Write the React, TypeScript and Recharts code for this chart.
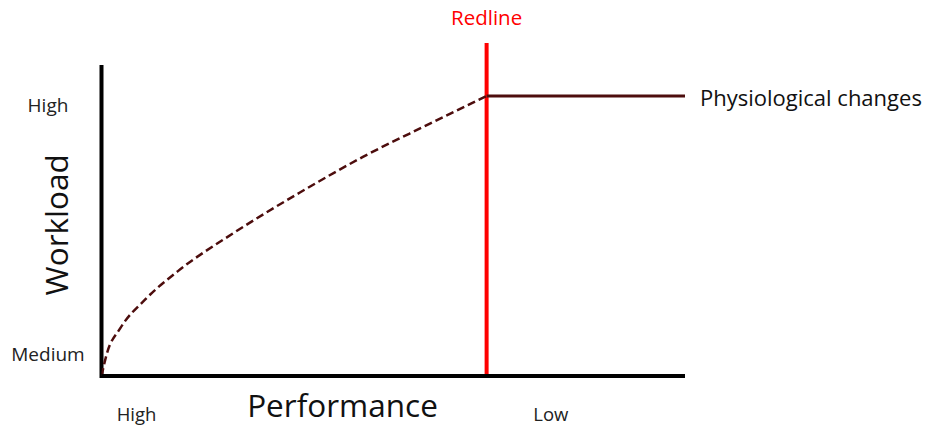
import {
  ComposedChart,
  Line,
  XAxis,
  YAxis,
  ReferenceLine,
  Label,
} from "recharts";

// performance (x) vs workload (y), both 0..100
const curveData = [
  { perf: 0, workload: 0 },
  { perf: 0.9, workload: 6.6 },
  { perf: 3.2, workload: 14.3 },
  { perf: 7.5, workload: 23.0 },
  { perf: 13.1, workload: 31.5 },
  { perf: 22.6, workload: 42.9 },
  { perf: 34.0, workload: 55.1 },
  { perf: 44.8, workload: 65.8 },
  { perf: 56.2, workload: 75.7 },
  { perf: 66, workload: 84.1 },
];

const plateauData = [
  { perf: 66, workload: 84.1 },
  { perf: 100, workload: 84.1 },
];

const redlineAt = 66;
const yAxisTop = 93.4;

const xTicks = [6, 77];
const xTickLabels = ["High", "Low"];
const yTicks = [6.6, 81.3];
const yTickLabels = ["Medium", "High"];

const FONT = "'Open Sans', 'Noto Sans', sans-serif";
const CURVE = "#4d0d0d";

const XTick = (props: any) => {
  const { x, y, payload } = props;
  const i = xTicks.indexOf(payload.value);
  return (
    <text x={x} y={y + 37} textAnchor="middle" fontSize={18.5} fill="#222" fontFamily={FONT}>
      {xTickLabels[i]}
    </text>
  );
};

const YTick = (props: any) => {
  const { y, payload } = props;
  const i = yTicks.indexOf(payload.value);
  return (
    <text x={48} y={y} dominantBaseline="central" textAnchor="middle" fontSize={19} fill="#222" fontFamily={FONT}>
      {yTickLabels[i]}
    </text>
  );
};

const App = () => {
  return (
    <div style={{ position: "absolute", left: 0, top: 0, background: "#fff" }}>
      <ComposedChart
        width={928}
        height={426}
        margin={{ top: 43, right: 243, bottom: 0, left: 0 }}
      >
        <XAxis
          type="number"
          dataKey="perf"
          domain={[0, 100]}
          ticks={xTicks}
          tick={<XTick />}
          tickLine={false}
          axisLine={{ stroke: "#000", strokeWidth: 4 }}
          height={50}
          allowDataOverflow
        >
          <Label
            content={(p: any) => {
              const vb = p.viewBox;
              return (
                <text
                  x={vb.x + vb.width * 0.413}
                  y={vb.y + 40.5}
                  textAnchor="middle"
                  fontSize={31.5}
                  fill="#111"
                  fontFamily={FONT}
                >
                  Performance
                </text>
              );
            }}
          />
        </XAxis>
        <YAxis
          type="number"
          domain={[0, 100]}
          ticks={yTicks}
          tick={<YTick />}
          tickLine={false}
          axisLine={false}
          width={101.5}
          allowDataOverflow
        >
          <Label
            content={(p: any) => {
              const vb = p.viewBox;
              const cx = 56;
              const cy = vb.y + vb.height * 0.546;
              return (
                <text
                  x={cx}
                  y={cy}
                  transform={`rotate(-90 ${cx} ${cy})`}
                  textAnchor="middle"
                  dominantBaseline="central"
                  fontSize={31.5}
                  fill="#111"
                  fontFamily={FONT}
                >
                  Workload
                </text>
              );
            }}
          />
        </YAxis>
        <ReferenceLine
          segment={[
            { x: 0, y: -0.6 },
            { x: 0, y: yAxisTop },
          ]}
          stroke="#000"
          strokeWidth={4}
          ifOverflow="visible"
        />
        <ReferenceLine x={redlineAt} stroke="#ff0000" strokeWidth={4} ifOverflow="visible">
          <Label
            value="Redline"
            position="top"
            offset={18}
            fill="#ff0000"
            fontSize={20.5}
            fontFamily={FONT}
          />
        </ReferenceLine>
        <Line
          data={curveData}
          dataKey="workload"
          type="monotone"
          stroke={CURVE}
          strokeWidth={2.5}
          strokeDasharray="8 4"
          dot={false}
          isAnimationActive={false}
        />
        <Line
          data={plateauData}
          dataKey="workload"
          type="linear"
          stroke={CURVE}
          strokeWidth={3}
          dot={false}
          isAnimationActive={false}
          label={(p: any) =>
            p.index === plateauData.length - 1 ? (
              <text
                key="phys"
                x={p.x + 15}
                y={p.y + 1}
                dominantBaseline="central"
                fontSize={22}
                fill="#111"
                fontFamily={FONT}
              >
                Physiological changes
              </text>
            ) : (
              <g key={`e-${p.index}`} />
            )
          }
        />
      </ComposedChart>
    </div>
  );
};

export default App;
